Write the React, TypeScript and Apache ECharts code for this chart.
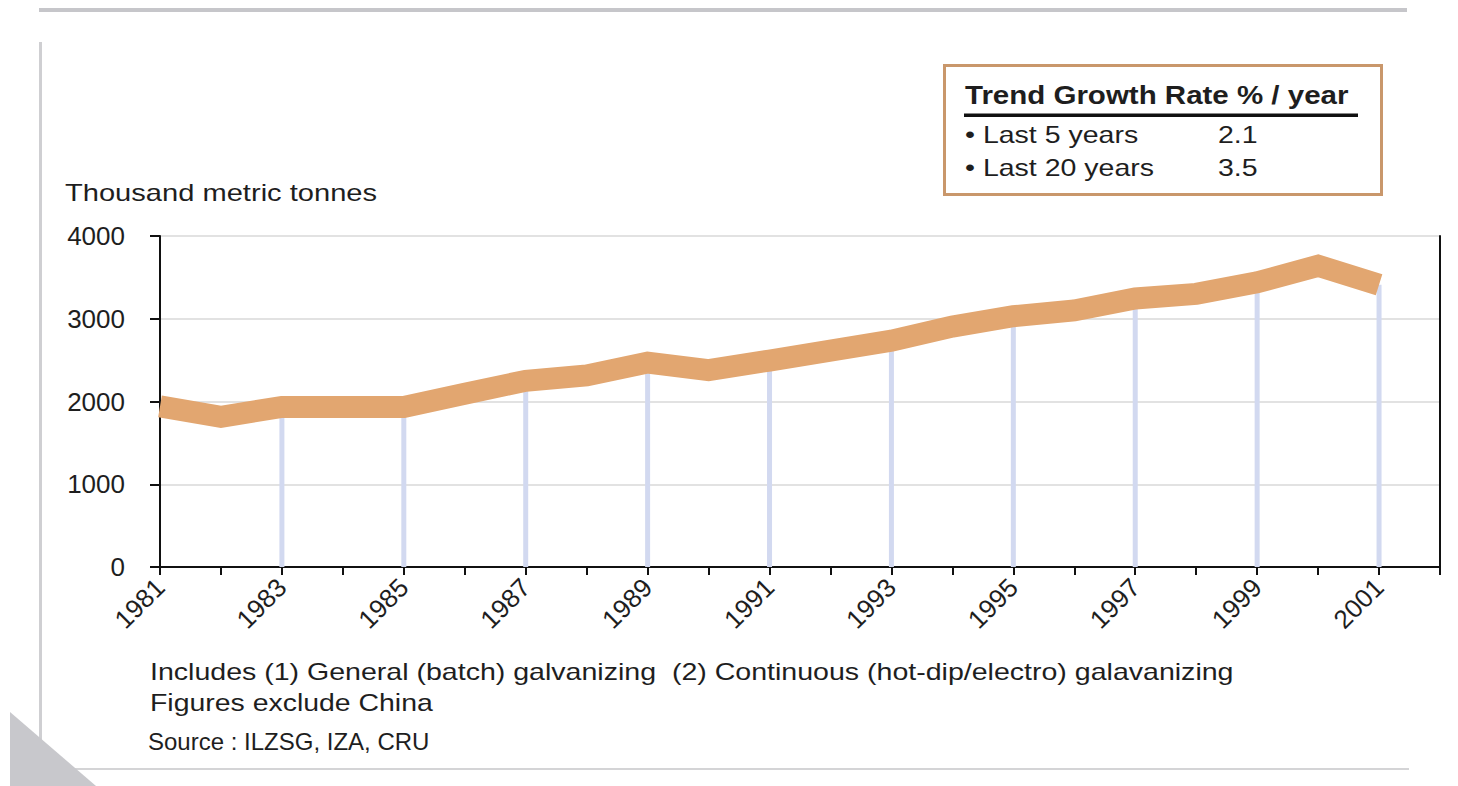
import React, { useEffect, useRef } from "react";
import * as echarts from "echarts";

// ---- Data ----
const years: number[] = [
  1981, 1982, 1983, 1984, 1985, 1986, 1987, 1988, 1989, 1990, 1991,
  1992, 1993, 1994, 1995, 1996, 1997, 1998, 1999, 2000, 2001,
];
const production: number[] = [
  1940, 1815, 1935, 1935, 1935, 2095, 2250, 2315, 2470, 2380, 2495,
  2615, 2735, 2905, 3030, 3100, 3245, 3300, 3440, 3640, 3410,
];
const markerYears: number[] = [1983, 1985, 1987, 1989, 1991, 1993, 1995, 1997, 1999, 2001];
const xTickLabels: string[] = [
  "1981", "1983", "1985", "1987", "1989", "1991", "1993", "1995", "1997", "1999", "2001",
];
const yTickLabels: string[] = ["0", "1000", "2000", "3000", "4000"];
const growthTitle = "Trend Growth Rate % / year";
const growthLabels: string[] = ["• Last 5 years", "• Last 20 years"];
const growthValues: string[] = ["2.1", "3.5"];
const unitLabel = "Thousand metric tonnes";
const noteLines: string[] = [
  "Includes (1) General (batch) galvanizing  (2) Continuous (hot-dip/electro) galavanizing",
  "Figures exclude China",
];
const sourceLine = "Source : ILZSG, IZA, CRU";

const FONT = '"Liberation Sans", Arial, Helvetica, sans-serif';
const TEXT = "#1e1e1e";

function txt(x: number, y: number, text: string, size: number, scaleX: number, bold = false) {
  return {
    type: "text",
    x,
    y,
    scaleX,
    z: 20,
    style: {
      text,
      x: 0,
      y: 0,
      fill: TEXT,
      font: `${bold ? "bold " : ""}${size}px ${FONT}`,
      align: "left",
      verticalAlign: "middle",
      textAlign: "left",
      textVerticalAlign: "middle",
    },
  };
}

export default function App() {
  const ref = useRef<HTMLDivElement>(null);

  useEffect(() => {
    if (!ref.current) return;
    const chart = echarts.init(ref.current, null, { renderer: "svg" });

    const lineData = years.map((y, i) => [y, production[i]]);
    const barData = markerYears.map((y) => [y, production[years.indexOf(y)]]);

    const graphics: any[] = [
      // frame
      { type: "rect", shape: { x: 39, y: 8, width: 1368, height: 4 }, style: { fill: "#c6c6ca" }, z: 1 },
      { type: "rect", shape: { x: 39, y: 42, width: 3, height: 708 }, style: { fill: "#cfcfd2" }, z: 1 },
      { type: "rect", shape: { x: 58, y: 768, width: 1351, height: 2 }, style: { fill: "#d4d4d6" }, z: 1 },
      {
        type: "polygon",
        shape: { points: [[10, 712], [10, 786], [96, 786]] },
        style: { fill: "#c8c8cc" },
        z: 2,
      },
      // growth box
      {
        type: "rect",
        shape: { x: 944.5, y: 65.5, width: 437, height: 129 },
        style: { fill: "#ffffff", stroke: "#c9976b", lineWidth: 3 },
        z: 5,
      },
      { type: "rect", shape: { x: 964, y: 113.5, width: 394, height: 3.5 }, style: { fill: "#111" }, z: 10 },
      txt(965, 95, growthTitle, 25, 1.18, true),
      txt(965, 135, growthLabels[0], 23, 1.24),
      txt(1218, 135, growthValues[0], 23, 1.24),
      txt(965, 168, growthLabels[1], 23, 1.24),
      txt(1218, 168, growthValues[1], 23, 1.24),
      // unit label
      txt(65, 193, unitLabel, 23, 1.265),
      // notes
      txt(150, 672, noteLines[0], 24, 1.19),
      txt(150, 703, noteLines[1], 24, 1.185),
      txt(148, 741, sourceLine, 24, 1.0),
    ];

    chart.setOption({
      animation: false,
      backgroundColor: "#ffffff",
      grid: { left: 160, right: 18, top: 236, bottom: 219, containLabel: false },
      xAxis: {
        type: "value",
        min: 1981,
        max: 2002,
        interval: 1,
        axisLine: { show: true, onZero: false, lineStyle: { color: "#111", width: 2 } },
        axisTick: { show: true, length: 8, lineStyle: { color: "#111", width: 2 } },
        splitLine: { show: false },
        axisLabel: {
          show: true,
          rotate: 45,
          margin: 16,
          fontSize: 26,
          fontFamily: FONT,
          color: TEXT,
          showMinLabel: true,
          showMaxLabel: true,
          formatter: (v: number) => (xTickLabels.includes(String(v)) ? String(v) : ""),
        },
      },
      yAxis: [
        {
          type: "value",
          min: 0,
          max: 4000,
          interval: 1000,
          axisLine: { show: true, lineStyle: { color: "#111", width: 2 } },
          axisTick: { show: true, length: 10, lineStyle: { color: "#111", width: 2 } },
          splitLine: { show: true, lineStyle: { color: "#e2e2e2", width: 2 } },
          axisLabel: {
            margin: 35,
            fontSize: 26,
            fontFamily: FONT,
            color: TEXT,
            formatter: (v: number) => (yTickLabels.includes(String(v)) ? String(v) : ""),
          },
        },
        {
          type: "value",
          position: "right",
          min: 0,
          max: 4000,
          interval: 1000,
          axisLine: { show: true, lineStyle: { color: "#111", width: 2 } },
          axisTick: { show: false },
          splitLine: { show: false },
          axisLabel: { show: false },
        },
      ],
      series: [
        {
          type: "bar",
          data: barData,
          barWidth: 5,
          itemStyle: { color: "#d2d9f0" },
          z: 2,
          silent: true,
        },
        {
          type: "line",
          data: lineData,
          symbol: "none",
          lineStyle: { color: "#e2a670", width: 22, cap: "butt", join: "miter" },
          z: 3,
          silent: true,
        },
      ],
      graphic: graphics,
    });

    return () => chart.dispose();
  }, []);

  return (
    <div
      ref={ref}
      style={{ position: "fixed", left: 0, top: 0, width: 1458, height: 786, background: "#fff" }}
    />
  );
}
